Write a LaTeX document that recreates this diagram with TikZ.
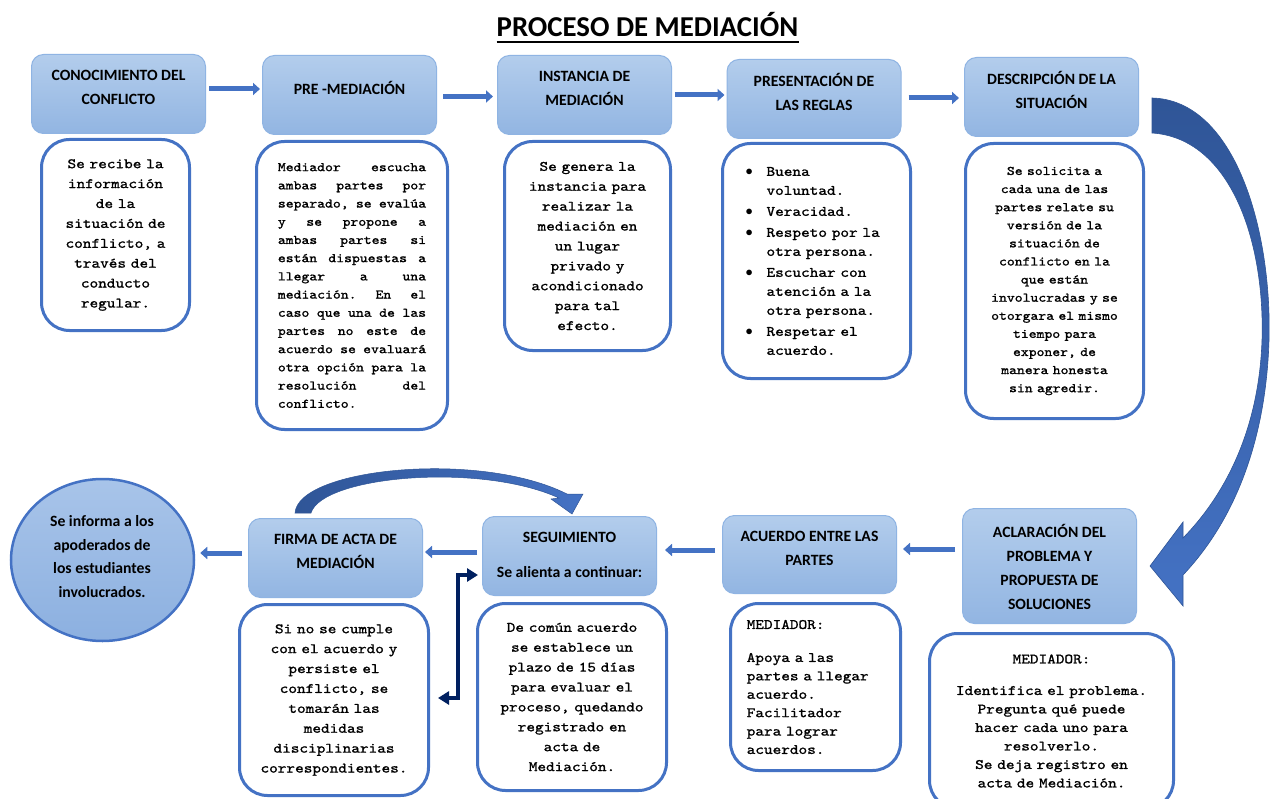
\documentclass[tikz,border=0pt]{standalone}
\usepackage{fontspec}
\setmainfont{Carlito}
\newfontfamily\monof[FakeStretch=1.143,FakeBold=1.2]{lmmono10-regular.otf}
\usetikzlibrary{shapes.geometric,arrows.meta,calc}
\definecolor{hdrtop}{RGB}{179,205,236}
\definecolor{hdrbot}{RGB}{146,181,226}
\definecolor{hdrline}{RGB}{143,180,227}
\definecolor{boxline}{RGB}{68,114,196}
\definecolor{arrowc}{RGB}{68,114,196}
\definecolor{bigtop}{RGB}{47,85,151}
\definecolor{bigbot}{RGB}{68,114,196}
\definecolor{navy}{RGB}{0,32,96}
\definecolor{elltop}{RGB}{168,196,233}
\definecolor{ellbot}{RGB}{140,176,224}
\newcommand\hfont{\fontsize{15.7}{24}\selectfont\bfseries}
\newcommand\mA{\monof\fontsize{14.4}{19.9}\selectfont}
\newcommand\mAb{\monof\fontsize{14.4}{18.4}\selectfont}
\newcommand\mB{\monof\fontsize{13.1}{18.2}\selectfont}
\newcommand\jl[1]{\leavevmode\hbox to 148.2pt{#1}}
\newcommand\bl{\makebox[21pt][l]{$\bullet$}}
\newcommand\ind{\hspace*{21pt}}
\tikzset{
  hdr/.style={draw=hdrline,line width=1pt,rounded corners=12pt,top color=hdrtop,bottom color=hdrbot,minimum width=174pt,minimum height=79pt,inner sep=0pt},
  hdrtext/.style={font=\hfont,align=center,inner sep=0pt,text=black},
  desc/.style={draw=boxline,line width=3pt,rounded corners=28pt,fill=white,inner sep=0pt},
  blockarrow/.style={draw=arrowc,line width=5pt,-{Triangle[width=12pt,length=7pt]}},
  elbow/.style={draw=navy,line width=4pt,{Triangle[width=13pt,length=11pt]}-{Triangle[width=13pt,length=11pt]}}
}
\begin{document}
\begin{tikzpicture}[x=1pt,y=-1pt]
\useasboundingbox (0,0) rectangle (1273,799);
\fill[white] (0,0) rectangle (1273,799);

% title
\node[font=\fontsize{28.8}{34}\selectfont\bfseries,anchor=base,inner sep=0pt] (title) at (647.5,37) {PROCESO DE MEDIACIÓN};
\draw[line width=2.5pt] ($(title.base west)+(0,5)$) -- ($(title.base east)+(0,5)$);

% top headers
\node[hdr] (h1) at (118.5,94) {};
\node[hdr] (h2) at (349.5,95) {};
\node[hdr] (h3) at (584.5,95) {};
\node[hdr] (h4) at (814,99) {};
\node[hdr] (h5) at (1051.5,97) {};
\node[hdrtext] (t1) at (118.5,87) {CONOCIMIENTO DEL\\CONFLICTO};
\node[hdrtext] (t2) at (349.5,87.5) {PRE -MEDIACIÓN};
\node[hdrtext] (t3) at (584.5,88) {INSTANCIA DE\\MEDIACIÓN};
\node[hdrtext] (t4) at (814,92) {PRESENTACIÓN DE\\LAS REGLAS};
\node[hdrtext] (t5) at (1051.5,89.5) {DESCRIPCIÓN DE LA\\SITUACIÓN};

% top arrows
\draw[blockarrow,shorten <=3pt,shorten >=2pt] (h1.east |- 0,89) -- (h2.west |- 0,89);
\draw[blockarrow,shorten <=6pt,shorten >=4pt] (h2.east |- 0,96.5) -- (h3.west |- 0,96.5);
\draw[blockarrow,shorten <=3pt,shorten >=2pt] (h3.east |- 0,95) -- (h4.west |- 0,95);
\draw[blockarrow,shorten <=7pt,shorten >=5pt] (h4.east |- 0,98) -- (h5.west |- 0,98);

% top description boxes
\node[desc,minimum width=148pt,minimum height=191pt,text width=140pt,align=center,font=\mA] (d1) at (115.5,235)
 {Se recibe la\\información\\de la\\situación de\\conflicto, a\\través del\\conducto\\regular.};
\node[desc,minimum width=191pt,minimum height=288pt,text width=148.2pt,align=left,font=\mB] (d2) at (352,285.5)
 {\jl{Mediador\hfill escucha}\\\jl{ambas\hfill partes\hfill por}\\\jl{separado,\hfill se\hfill evalúa}\\\jl{y\hfill se\hfill propone\hfill a}\\\jl{ambas\hfill partes\hfill si}\\\jl{están\hfill dispuestas\hfill a}\\\jl{llegar\hfill a\hfill una}\\\jl{mediación.\hfill En\hfill el}\\\jl{caso\hfill que\hfill una\hfill de\hfill las}\\\jl{partes\hfill no\hfill este\hfill de}\\\jl{acuerdo\hfill se\hfill evaluará}\\\jl{otra\hfill opción\hfill para\hfill la}\\\jl{resolución\hfill del}\\conflicto.};
\node[desc,minimum width=166pt,minimum height=209pt,text width=158pt,align=center,font=\mA] (d3) at (587.5,246)
 {Se genera la\\instancia para\\realizar la\\mediación en\\un lugar\\privado y\\acondicionado\\para tal\\efecto.};
\node[desc,minimum width=188pt,minimum height=235pt,text width=142pt,align=left,font=\monof\fontsize{14.4}{19}\selectfont] (d4) at (816.5,261)
 {\bl Buena\\\ind voluntad.\\[2pt]\bl Veracidad.\\[2pt]\bl Respeto por la\\\ind otra persona.\\[2pt]\bl Escuchar con\\\ind atención a la\\\ind otra persona.\\[2pt]\bl Respetar el\\\ind acuerdo.};
\node[desc,minimum width=178pt,minimum height=275pt,text width=172pt,align=center,font=\monof\fontsize{13.1}{18.1}\selectfont] (d5) at (1054.5,281)
 {Se solicita a\\cada una de las\\partes relate su\\versión de la\\situación de\\conflicto en la\\que están\\involucradas y se\\otorgara el mismo\\tiempo para\\exponer, de\\manera honesta\\sin agredir.};

% big curved arrow
\shade[top color=bigtop,bottom color=bigbot,draw=bigtop,line width=0.6pt]
 (1152,98) .. controls (1235,100) and (1272,230) .. (1269,340)
 .. controls (1266,440) and (1235,520) .. (1183,575)
 -- (1183,606) -- (1150,566) -- (1183,522) -- (1183,538)
 .. controls (1225,495) and (1259,430) .. (1262,340)
 .. controls (1265,240) and (1230,138) .. (1152,133) -- cycle;

% bottom headers
\node[hdr,minimum height=115pt] (h6) at (1049.5,566) {};
\node[hdr,minimum height=78pt] (h7) at (809.5,554.5) {};
\node[hdr] (h8) at (569.5,556) {};
\node[hdr] (h9) at (335.5,558) {};
\node[hdrtext] (t6) at (1049.5,567) {ACLARACIÓN DEL\\PROBLEMA Y\\PROPUESTA DE\\SOLUCIONES};
\node[hdrtext] (t7) at (809.5,548) {ACUERDO ENTRE LAS\\PARTES};
\node[hdrtext] (t8) at (569.5,554.5) {SEGUIMIENTO\\[11pt]Se alienta a continuar:};
\node[hdrtext] (t9) at (335.5,551) {FIRMA DE ACTA DE\\MEDIACIÓN};

% ellipse
\node[ellipse,draw=boxline,line width=2.5pt,top color=elltop,bottom color=ellbot,minimum width=183pt,minimum height=162pt,inner sep=0pt] (ell) at (102.5,560) {};
\node[font=\fontsize{15.7}{23.7}\selectfont\bfseries,align=center,inner sep=0pt] (te) at (102,556.5) {Se informa a los\\apoderados de\\los estudiantes\\involucrados.};

% bottom arrows
\draw[blockarrow,shorten <=7pt,shorten >=6pt] (h6.west |- 0,549) -- (h7.east |- 0,549);
\draw[blockarrow,shorten <=7pt,shorten >=8pt] (h7.west |- 0,550) -- (h8.east |- 0,550);
\draw[blockarrow,shorten <=5pt,shorten >=2pt] (h8.west |- 0,552) -- (h9.east |- 0,552);
\draw[blockarrow,shorten <=6pt,shorten >=5pt] (h9.west |- 0,553) -- (ell.east |- 0,553);

% small curved arrow firma -> seguimiento
\shade[left color=bigtop,right color=bigbot,draw=bigtop,line width=0.5pt]
 (295,513) .. controls (298,468) and (480,450) .. (567,494)
 -- (583,494) -- (572,514) -- (551,499) -- (559,498)
 .. controls (480,462) and (322,476) .. (311,513) -- cycle;

% elbow double arrow
\coordinate (eA) at (438,698);
\draw[elbow,shorten >=4pt] (eA) -| (458,575) -- (h8.west |- 0,575);

% bottom description boxes
\node[desc,minimum width=244pt,minimum height=175pt,text width=236pt,align=center,font=\monof\fontsize{14.4}{18.5}\selectfont] (d6) at (1051.5,721)
 {MEDIADOR:\\[13pt]Identifica el problema.\\Pregunta qué puede\\hacer cada uno para\\resolverlo.\\Se deja registro en\\acta de Mediación.};
\node[desc,minimum width=170pt,minimum height=167pt,text width=137.6pt,align=left,font=\mAb] (d7) at (815.5,687)
 {MEDIADOR:\\[14.6pt]Apoya a las\\partes a llegar\\acuerdo.\\Facilitador\\para lograr\\acuerdos.};
\node[desc,minimum width=189pt,minimum height=187pt,text width=180pt,align=center,font=\mA] (d8) at (572,697)
 {De común acuerdo\\se establece un\\plazo de 15 días\\para evaluar el\\proceso, quedando\\registrado en\\acta de\\Mediación.};
\node[desc,minimum width=189pt,minimum height=191pt,text width=180pt,align=center,font=\mA] (d9) at (334,700)
 {Si no se cumple\\con el acuerdo y\\persiste el\\conflicto, se\\tomarán las\\medidas\\disciplinarias\\correspondientes.};
\end{tikzpicture}
\end{document}
